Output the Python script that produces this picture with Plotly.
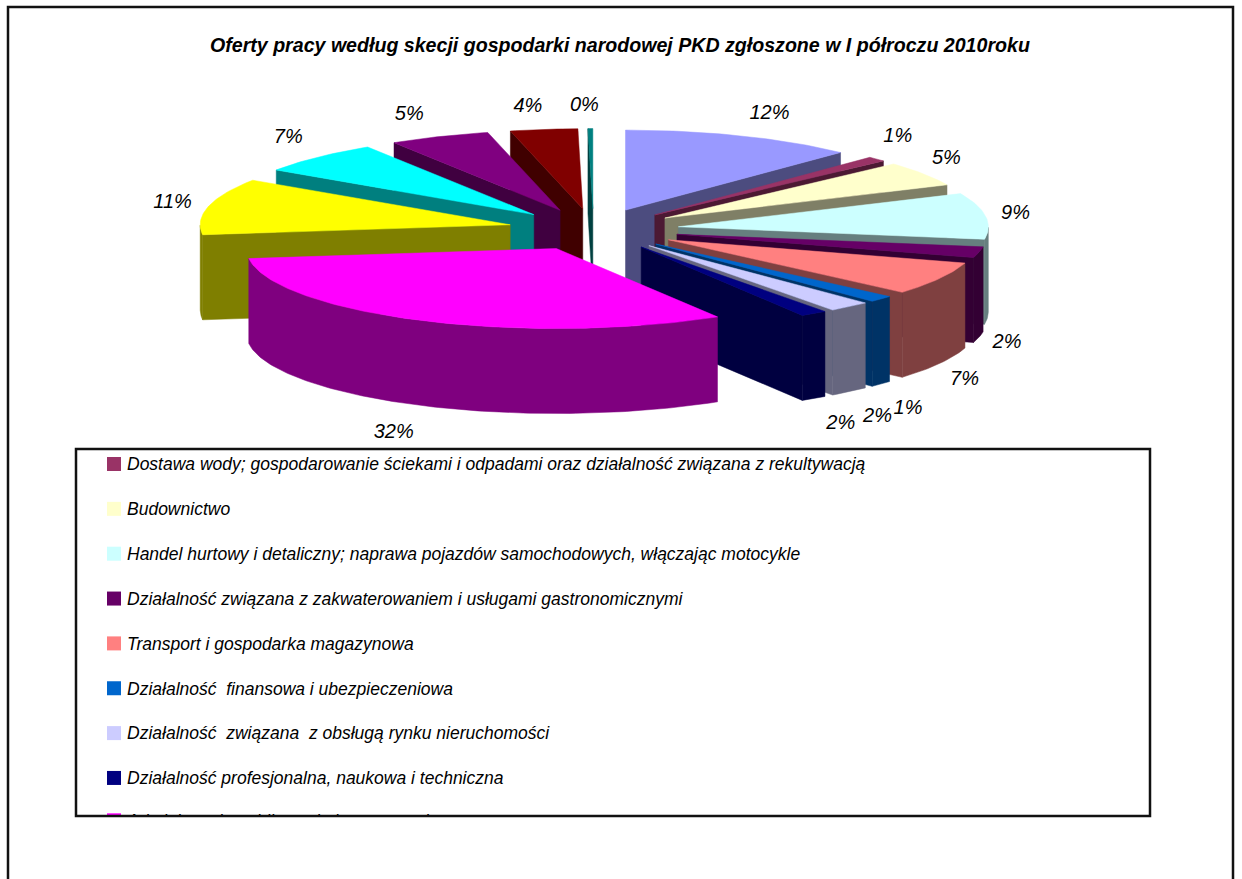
import math
import plotly.graph_objects as go

TITLE = "Oferty pracy według skecji gospodarki narodowej PKD zgłoszone w I półroczu 2010roku"
SLICE_VALUES = [12.2, 1.0, 5.0, 9.3, 2.2, 6.7, 1.3, 2.2, 1.4, 31.7, 11.4, 6.6, 5.25, 3.5, 0.25]
SLICE_LABELS = ["12%", "1%", "5%", "9%", "2%", "7%", "1%", "2%", "2%", "32%", "11%", "7%", "5%", "4%", "0%"]
SLICE_COLORS = ["#9999FF", "#993366", "#FFFFCC", "#CCFFFF", "#660066", "#FF8080", "#0066CC", "#CCCCFF",
                "#000080", "#FF00FF", "#FFFF00", "#00FFFF", "#800080", "#800000", "#008080"]
LEGEND_ITEMS = [
    "Dostawa wody; gospodarowanie ściekami i odpadami oraz działalność związana z rekultywacją",
    "Budownictwo",
    "Handel hurtowy i detaliczny; naprawa pojazdów samochodowych, włączając motocykle",
    "Działalność związana z zakwaterowaniem i usługami gastronomicznymi",
    "Transport i gospodarka magazynowa",
    "Działalność  finansowa i ubezpieczeniowa",
    "Działalność  związana  z obsługą rynku nieruchomości",
    "Działalność profesjonalna, naukowa i techniczna",
    "Administracja publiczna i obrona narodowa",
]
LEGEND_COLORS = SLICE_COLORS[1:10]

# Layout constants (page pixels)
W, H = 1242, 879
CX, CY = 593.5, 229.6      # pie centre
RX, RY = 310.0, 80.0       # top-face ellipse
EX, EY = 85.6, 21.0        # explosion distance
DEPTH = 85.0
LABEL_DX = [28, 21, 23, 30, 28, 25, 27, 28, 27, -28, -36, -29, -30, -16, -6]
LABEL_DY = [-22, -22, -15, -2, 91, 101, 110, 110, 111, 112, -3, -19, -22, -22, -23]
LEGEND_BOX = (76, 449, 1150, 816)
FRAME = (8, 7, 1233, 900)
LEGEND_X, LEGEND_Y0, LEGEND_STEP = 127, 464, 44.85
LEGEND_TEXT_SHIFT = 2
CLIPPED_ROW_NUDGE = -2.5
FONT = "Liberation Sans, Arial, sans-serif"


def shade(hex_color):
    r, g, b = (int(hex_color[i:i + 2], 16) // 2 for i in (1, 3, 5))
    return f"#{r:02x}{g:02x}{b:02x}"


def polygon(xs, ys, color, xaxis="x", yaxis="y"):
    return go.Scatter(x=xs, y=ys, mode="lines", fill="toself", fillcolor=color,
                      line=dict(color=color, width=0.5), hoverinfo="skip", showlegend=False,
                      xaxis=xaxis, yaxis=yaxis)


total = sum(SLICE_VALUES)
slices = []
cum = 0.0
for val, lab, col, dx, dy in zip(SLICE_VALUES, SLICE_LABELS, SLICE_COLORS, LABEL_DX, LABEL_DY):
    a0 = cum / total * 2 * math.pi
    cum += val
    a1 = cum / total * 2 * math.pi
    mid = (a0 + a1) / 2
    ax = CX + EX * math.sin(mid)
    ay = CY - EY * math.cos(mid)
    slices.append(dict(a0=a0, a1=a1, mid=mid, ax=ax, ay=ay, lab=lab, col=col, dx=dx, dy=dy))


def rim(s, a):
    return s["ax"] + RX * math.sin(a), s["ay"] - RY * math.cos(a)


fig = go.Figure()
for s in sorted(slices, key=lambda v: v["ay"]):
    dark = shade(s["col"])
    n = max(4, int((s["a1"] - s["a0"]) * 60))
    angles = [s["a0"] + (s["a1"] - s["a0"]) * i / n for i in range(n + 1)]
    arc = [rim(s, a) for a in angles]
    # radial cut faces that look towards the viewer
    for a, visible in ((s["a0"], math.sin(s["a0"]) < 0), (s["a1"], math.sin(s["a1"]) > 0)):
        if visible:
            px, py = rim(s, a)
            fig.add_trace(polygon([s["ax"], px, px, s["ax"], s["ax"]],
                                  [s["ay"], py, py + DEPTH, s["ay"] + DEPTH, s["ay"]], dark))
    # outer wall: the front half of the arc
    front = [p for p, a in zip(arc, angles) if math.cos(a) <= 0]
    if len(front) > 1:
        xs = [p[0] for p in front]
        ys = [p[1] for p in front]
        fig.add_trace(polygon(xs + xs[::-1] + xs[:1], ys + [y + DEPTH for y in ys[::-1]] + ys[:1], dark))
    # top face
    fig.add_trace(polygon([s["ax"]] + [p[0] for p in arc] + [s["ax"]],
                          [s["ay"]] + [p[1] for p in arc] + [s["ay"]], s["col"]))

# data labels
fig.add_trace(go.Scatter(
    x=[CX + (RX + EX) * math.sin(s["mid"]) + s["dx"] for s in slices],
    y=[CY - (RY + EY) * math.cos(s["mid"]) + s["dy"] for s in slices],
    mode="text", text=[s["lab"] for s in slices], textposition="middle center",
    textfont=dict(family=FONT, size=20, color="#000000", style="italic"),
    hoverinfo="skip", showlegend=False))

# legend, drawn on a second subplot so the last row is clipped by the box
legend_y = [LEGEND_Y0 + i * LEGEND_STEP for i in range(len(LEGEND_ITEMS))]
legend_y[-1] += CLIPPED_ROW_NUDGE
fig.add_trace(go.Scatter(
    x=[LEGEND_X - 13] * len(LEGEND_ITEMS), y=legend_y, mode="markers",
    marker=dict(symbol="square", size=14, color=LEGEND_COLORS, line=dict(width=0)),
    cliponaxis=True, xaxis="x2", yaxis="y2", hoverinfo="skip", showlegend=False))
fig.add_trace(go.Scatter(
    x=[LEGEND_X] * len(LEGEND_ITEMS), y=[v + LEGEND_TEXT_SHIFT for v in legend_y],
    mode="text", text=LEGEND_ITEMS, textposition="middle right",
    textfont=dict(family=FONT, size=17.5, color="#000000", style="italic"),
    cliponaxis=True, xaxis="x2", yaxis="y2", hoverinfo="skip", showlegend=False))

hidden = dict(visible=False, fixedrange=True)
fig.update_layout(
    width=W, height=H, margin=dict(l=0, r=0, t=0, b=0, pad=0),
    paper_bgcolor="white", plot_bgcolor="rgba(0,0,0,0)", showlegend=False,
    xaxis=dict(range=[0, W], domain=[0, 1], **hidden),
    yaxis=dict(range=[H, 0], domain=[0, 1], **hidden),
    xaxis2=dict(range=[0, W], domain=[0, 1], anchor="y2", **hidden),
    yaxis2=dict(range=[LEGEND_BOX[3], 0], domain=[(H - LEGEND_BOX[3]) / H, 1], anchor="x2", **hidden),
    annotations=[dict(text=f"<b><i>{TITLE}</i></b>", x=619.5, y=45, xref="x", yref="y",
                      showarrow=False, xanchor="center", yanchor="middle",
                      font=dict(family=FONT, size=19.6, color="#000000"))],
    shapes=[
        dict(type="rect", xref="x", yref="y", x0=FRAME[0], y0=FRAME[1], x1=FRAME[2], y1=FRAME[3],
             line=dict(color="#111111", width=2.5), fillcolor="rgba(0,0,0,0)", layer="above"),
        dict(type="rect", xref="x", yref="y", x0=LEGEND_BOX[0], y0=LEGEND_BOX[1], x1=LEGEND_BOX[2], y1=LEGEND_BOX[3],
             line=dict(color="#111111", width=2.5), fillcolor="rgba(0,0,0,0)", layer="above"),
    ],
)
fig.write_html("out.html", config=dict(displayModeBar=False),
               post_script="document.body.style.margin='0';document.body.style.overflow='hidden';")
